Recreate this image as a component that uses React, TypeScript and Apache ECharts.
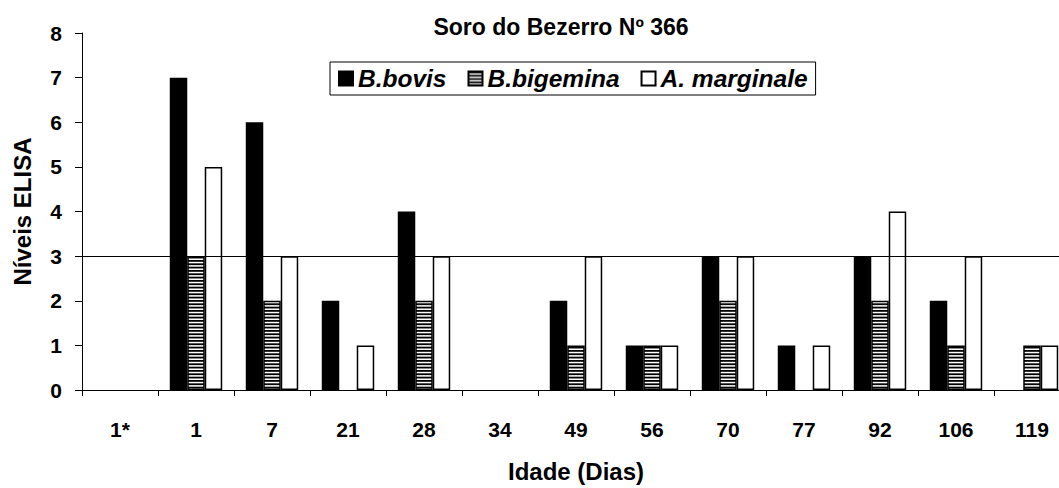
import React, { useEffect, useRef } from "react";
import * as echarts from "echarts";

const categories = ["1*", "1", "7", "21", "28", "34", "49", "56", "70", "77", "92", "106", "119"];
const seriesNames = ["B.bovis", "B.bigemina", "A. marginale"];
const bBovis = [0, 7, 6, 2, 4, 0, 2, 1, 3, 1, 3, 2, 0];
const bBigemina = [0, 3, 2, 0, 2, 0, 1, 1, 2, 0, 2, 1, 1];
const aMarginale = [0, 5, 3, 1, 3, 0, 3, 1, 3, 1, 4, 3, 1];
const cutoff = 3;
const titleText = "Soro do Bezerro Nº 366";
const xName = "Idade (Dias)";
const yName = "Níveis ELISA";

const FONT = "'Liberation Sans', Arial, sans-serif";

const stripeSvg =
  '<svg xmlns="http://www.w3.org/2000/svg" width="4" height="10">' +
  '<rect width="4" height="10" fill="#fff"/>' +
  '<rect y="0" width="4" height="1.8" fill="#000"/>' +
  '<rect y="3.33" width="4" height="1.8" fill="#000"/>' +
  '<rect y="6.67" width="4" height="1.8" fill="#000"/>' +
  "</svg>";
const stripeUrl = "data:image/svg+xml;utf8," + encodeURIComponent(stripeSvg);

const nz = (arr: number[]) => arr.map((v) => (v === 0 ? null : v));

export default function App() {
  const ref = useRef<HTMLDivElement>(null);
  useEffect(() => {
    if (!ref.current) return;
    const chart = echarts.init(ref.current, null, { renderer: "svg" });
    const border = { borderColor: "#000", borderWidth: 1.5 };
    chart.setOption({
      animation: false,
      backgroundColor: "#fff",
      textStyle: { fontFamily: FONT },
      grid: { left: 82, top: 33, bottom: 93, right: 1, containLabel: false },
      graphic: [
        {
          type: "text",
          x: 561,
          y: 27,
          style: {
            text: titleText,
            fontFamily: FONT,
            fontWeight: "bold",
            fontSize: 23,
            fill: "#000",
            textAlign: "center",
            textVerticalAlign: "middle",
          },
        },
      ],
      legend: {
        left: 330,
        top: 62,
        padding: [4, 8, 4, 8],
        borderColor: "#000",
        borderWidth: 1,
        itemWidth: 14,
        itemHeight: 14,
        itemGap: 21,
        icon: "rect",
        data: seriesNames,
        textStyle: {
          fontFamily: FONT,
          fontWeight: "bold",
          fontStyle: "italic",
          fontSize: 24.5,
          color: "#000",
        },
      },
      xAxis: {
        type: "category",
        data: categories,
        boundaryGap: true,
        name: xName,
        nameLocation: "middle",
        nameGap: 69,
        nameTextStyle: { fontFamily: FONT, fontWeight: "bold", fontSize: 24, color: "#000" },
        axisLine: { show: true, lineStyle: { color: "#000", width: 1 } },
        axisTick: { show: true, length: 6, lineStyle: { color: "#000" } },
        axisLabel: { margin: 29, fontFamily: FONT, fontWeight: "bold", fontSize: 21, color: "#000" },
        splitLine: { show: false },
      },
      yAxis: {
        type: "value",
        min: 0,
        max: 8,
        interval: 1,
        name: yName,
        nameLocation: "middle",
        nameGap: 48,
        nameTextStyle: { fontFamily: FONT, fontWeight: "bold", fontSize: 24, color: "#000" },
        axisLine: { show: true, lineStyle: { color: "#000", width: 1 } },
        axisTick: { show: true, length: 7, lineStyle: { color: "#000" } },
        axisLabel: { margin: 20, fontFamily: FONT, fontWeight: "bold", fontSize: 21, color: "#000" },
        splitLine: { show: false },
      },
      series: [
        {
          name: seriesNames[0],
          type: "bar",
          data: nz(bBovis),
          barGap: "0%",
          barCategoryGap: "31%",
          itemStyle: { color: "#000", ...border },
          markLine: {
            silent: true,
            symbol: ["none", "none"],
            label: { show: false },
            lineStyle: { color: "#000", width: 1.2, type: "solid" },
            data: [{ yAxis: cutoff }],
          },
        },
        {
          name: seriesNames[1],
          type: "bar",
          data: nz(bBigemina),
          barGap: "0%",
          barCategoryGap: "31%",
          itemStyle: {
            color: { image: stripeUrl, repeat: "repeat", imageWidth: 4, imageHeight: 10 },
            ...border,
          },
        },
        {
          name: seriesNames[2],
          type: "bar",
          data: nz(aMarginale),
          barGap: "0%",
          barCategoryGap: "31%",
          itemStyle: { color: "#fff", ...border },
        },
      ],
    });
    return () => chart.dispose();
  }, []);
  return (
    <div
      style={{
        position: "fixed",
        left: 0,
        top: 0,
        width: 1059,
        height: 488,
        overflow: "hidden",
        background: "#fff",
      }}
    >
      <div ref={ref} style={{ width: 1071, height: 488 }} />
    </div>
  );
}
